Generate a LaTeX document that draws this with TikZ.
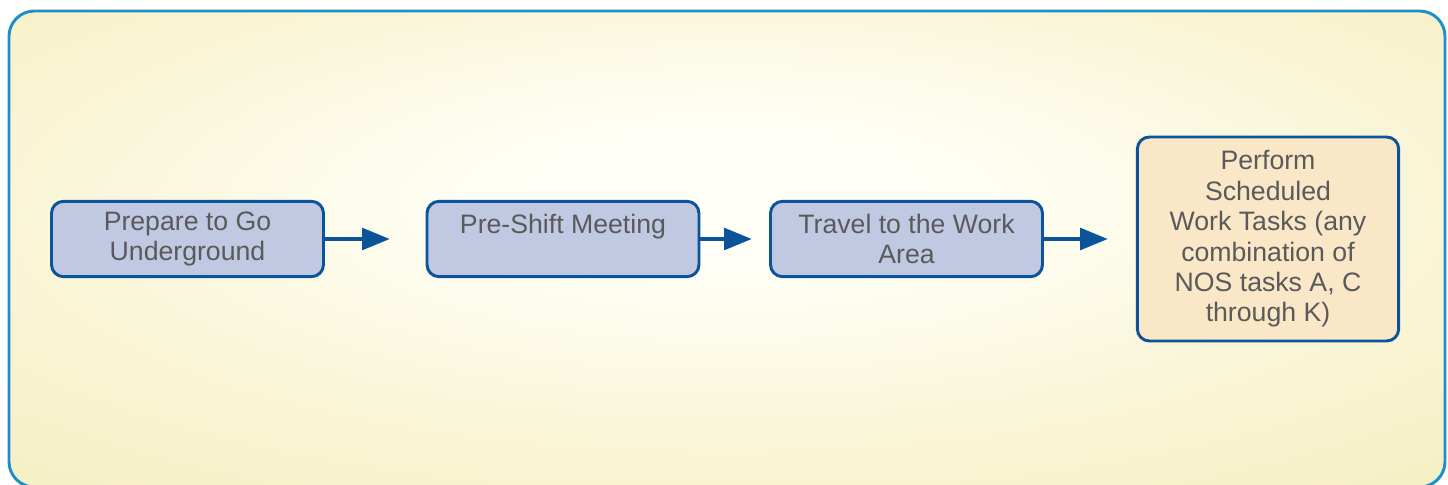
\documentclass[tikz,border=0pt]{standalone}
\usepackage{fontspec}
\setmainfont{Liberation Sans}
\usetikzlibrary{arrows.meta}
\definecolor{bgy}{HTML}{F4ECBA}
\definecolor{bgc}{HTML}{FFFFF7}
\definecolor{frameblue}{HTML}{1C8FCB}
\definecolor{boxblue}{HTML}{C1C9E2}
\definecolor{boxedge}{HTML}{0B5499}
\definecolor{boxorange}{HTML}{FAE7C8}
\definecolor{txtgray}{HTML}{5A5A5A}
\pgfdeclareradialshading{bgshade}{\pgfpoint{0bp}{6bp}}{color(0bp)=(bgc); color(7bp)=(bgc); color(25bp)=(bgy!55!bgc); color(45bp)=(bgy); color(70bp)=(bgy)}
\begin{document}
\begin{tikzpicture}[x=0.75pt,y=-0.75pt,
  stepbox/.style={draw=boxedge, line width=2.2pt, rounded corners=9pt, fill=boxblue,
    minimum width=204pt, minimum height=56.5pt, align=center, text=txtgray,
    font=\fontsize{20}{22.8}\selectfont, inner sep=0pt},
  endbox/.style={stepbox, fill=boxorange, minimum width=196pt, minimum height=153pt},
  flow/.style={draw=boxedge, line width=3.6pt, -{Triangle[length=21pt,width=16pt]}, shorten >=0pt}]
\useasboundingbox (0,0) rectangle (1448,485);
\shade[shading=bgshade, draw=frameblue, line width=2.2pt, rounded corners=19pt]
  (9,11) rectangle (1445,487);
\node[stepbox] (a) at (187.5,239) {Prepare to Go\\Underground};
\node[stepbox] (b) at (563,239) {Pre-Shift Meeting\\\mbox{}};
\node[stepbox] (c) at (906.5,239) {Travel to the Work\\Area};
\node[endbox] (d) at (1268,239) {Perform\\Scheduled\\Work Tasks (any\\combination of\\NOS tasks A, C\\through K)};
\coordinate (ae) at (390,239);
\coordinate (be) at (752,239);
\coordinate (ce) at (1108,239);
\draw[flow] (a.east) -- (ae);
\draw[flow] (b.east) -- (be);
\draw[flow] (c.east) -- (ce);
\end{tikzpicture}
\end{document}
